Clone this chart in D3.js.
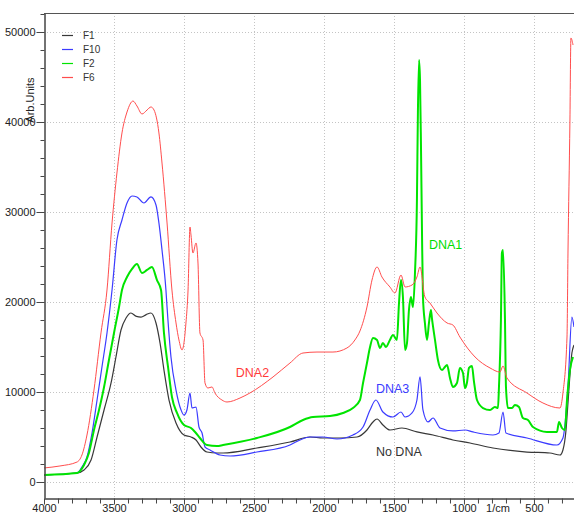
<!DOCTYPE html>
<html><head><meta charset="utf-8">
<script src="https://cdnjs.cloudflare.com/ajax/libs/d3/7.8.5/d3.min.js"></script>
<style>
body{margin:0;background:#fff}
svg{display:block}
text{font-family:"Liberation Sans",Arial,sans-serif}
</style>
</head><body><svg id="c" width="574" height="514"></svg>
<script>
// ---------- data (wavenumber 1/cm, intensity arb. units) ----------
const seriesNames = ["F1", "F10", "F2", "F6"];

const f1Data = [[4000,780],[3764,1000],[3714,1330],[3664,2440],[3621,5000],[3571,8000],[3521,11000],[3486,13890],[3450,16890],[3414,18220],[3379,18780],[3340,18400],[3307,18330],[3270,18600],[3236,18780],[3200,17670],[3171,15440],[3143,12440],[3107,9110],[3057,6560],[3000,5220],[2950,5000],[2914,4670],[2879,3890],[2836,3330],[2764,3220],[2721,3220],[2479,3780],[2243,4440],[2100,5000],[2007,4890],[1886,4890],[1764,5000],[1693,5780],[1650,6670],[1621,7000],[1579,6330],[1529,5780],[1443,6000],[1336,5560],[1221,5220],[1079,4670],[957,4330],[793,3780],[550,3330],[386,3220],[314,3000],[293,3560],[271,5780],[257,8780],[229,14330],[214,15220]];

const f10Data = [[4000,780],[3764,1000],[3729,1670],[3693,2780],[3657,5440],[3621,9110],[3586,12780],[3550,16560],[3514,21330],[3479,26890],[3443,29110],[3407,31000],[3371,31780],[3336,31670],[3286,31000],[3236,31670],[3200,30780],[3179,28780],[3157,25780],[3129,21330],[3121,19440],[3093,13890],[3057,10220],[3021,8000],[3000,7440],[2979,8000],[2957,9890],[2943,8220],[2914,8330],[2893,6110],[2871,5440],[2850,3890],[2814,3560],[2743,3000],[2671,2890],[2479,3330],[2243,4110],[2171,4670],[2100,5000],[2007,5000],[1907,4780],[1793,5220],[1721,6110],[1671,8000],[1629,9110],[1579,7780],[1507,7220],[1450,7780],[1421,7220],[1371,7670],[1336,9110],[1314,11670],[1293,8000],[1257,6670],[1221,7110],[1171,6000],[1079,5670],[993,5780],[936,5560],[793,5220],[750,5440],[721,7780],[700,5440],[550,4890],[336,4110],[293,4890],[257,10560],[229,18330],[214,17220]];

const f2Data = [[4000,780],[3764,1000],[3714,1890],[3679,3220],[3643,5780],[3607,8000],[3571,10560],[3536,13560],[3500,16560],[3464,19440],[3443,21330],[3407,22780],[3371,23670],[3336,24220],[3300,23220],[3264,23560],[3229,23890],[3193,22440],[3164,21330],[3143,16560],[3114,12780],[3086,9440],[3050,7670],[3000,6330],[2950,6000],[2921,5560],[2886,4890],[2836,4110],[2764,4000],[2721,4110],[2479,4890],[2243,6110],[2150,6890],[2079,7220],[1957,7330],[1864,7670],[1793,8220],[1743,9110],[1721,11000],[1693,13220],[1671,15000],[1650,16000],[1621,15780],[1600,14890],[1579,15440],[1557,15000],[1529,15780],[1507,16330],[1479,15780],[1464,19890],[1450,22440],[1436,20560],[1421,14670],[1407,15440],[1393,19110],[1379,20560],[1364,19440],[1350,23220],[1336,31330],[1329,41110],[1321,46890],[1314,44670],[1307,37220],[1300,28000],[1293,20560],[1279,17670],[1264,15780],[1250,17670],[1236,19110],[1229,18220],[1207,15780],[1186,13560],[1157,12440],[1136,12780],[1121,13000],[1100,11560],[1079,10560],[1050,11000],[1029,12670],[1007,12110],[993,10440],[979,11000],[964,12670],[943,12890],[929,11220],[907,9110],[864,8220],[814,8000],[779,8330],[757,8220],[750,10560],[736,18000],[729,25440],[721,25780],[707,18000],[700,10560],[686,8220],[657,8220],[636,8560],[607,8330],[579,7110],[543,6890],[507,6110],[407,5560],[336,5560],[321,6670],[300,6000],[279,5780],[264,9110],[243,12440],[221,13890]];

const f6Data = [[4000,1560],[3886,1780],[3764,2220],[3729,3000],[3693,5220],[3643,10220],[3593,16560],[3550,21330],[3514,28780],[3479,34330],[3443,38780],[3407,41110],[3364,42330],[3336,41780],[3300,40890],[3264,41330],[3236,41670],[3214,41330],[3179,38780],[3157,35440],[3121,28780],[3086,21330],[3057,17670],[3036,15780],[3014,14670],[2986,17670],[2971,21330],[2957,28330],[2950,27440],[2936,25440],[2914,26560],[2900,24330],[2886,16560],[2864,15780],[2850,11000],[2829,10440],[2800,10560],[2779,9890],[2729,9110],[2693,8890],[2600,9330],[2529,9890],[2364,11670],[2243,13220],[2150,14330],[2050,14440],[1936,14440],[1836,14890],[1779,15780],[1743,16780],[1693,19440],[1657,22440],[1621,23890],[1586,22780],[1529,21670],[1493,21000],[1450,23000],[1421,21670],[1371,21890],[1336,22780],[1314,23890],[1279,20560],[1243,19890],[1193,18780],[1121,17670],[1079,17440],[1029,16110],[921,13890],[814,12670],[743,12220],[721,12890],[693,11560],[550,9890],[436,8780],[314,8220],[293,9890],[264,16110],[257,25440],[243,40220],[236,49330],[221,48560]];

const xTicks = [4000, 3500, 3000, 2500, 2000, 1500, 1000, 500];
const yTicks = [0, 10000, 20000, 30000, 40000, 50000];
const annotations = [
  {text: "DNA1", wn: 1250, val: 25900, series: "F2"},
  {text: "DNA2", wn: 2630, val: 11700, series: "F6"},
  {text: "DNA3", wn: 1629, val: 9900, series: "F10"},
  {text: "No DNA", wn: 1629, val: 2900, series: "F1"}
];

// ---------- styles ----------
const colors = {F1: "#383838", F10: "#3b3bff", F2: "#00e400", F6: "#ff4d4d"};
const widths = {F1: 1.2, F10: 1.2, F2: 2, F6: 1};
const labelColors = {F1: "#333", F10: "#3b3bff", F2: "#00dd00", F6: "#ff3a3a"};

const svg = d3.select("#c");
const mLeft = 44, mRight = 574, mTop = 13, mBottom = 498;

const x = d3.scaleLinear().domain([4000, 214]).range([mLeft, mRight]);
const y = d3.scaleLinear().domain([-1778, 52111]).range([mBottom, mTop]);

// gridlines
const grid = svg.append("g").attr("stroke", "#c4c4c4").attr("stroke-dasharray", "1,2").attr("stroke-width", 1);
xTicks.filter(d => d !== 4000).forEach(d => {
  grid.append("line").attr("x1", Math.round(x(d)) + 0.5).attr("x2", Math.round(x(d)) + 0.5).attr("y1", mTop).attr("y2", mBottom);
});
yTicks.forEach(d => {
  grid.append("line").attr("x1", mLeft).attr("x2", mRight).attr("y1", Math.round(y(d)) + 0.5).attr("y2", Math.round(y(d)) + 0.5);
});

// curves
svg.append("clipPath").attr("id", "clip").append("rect")
  .attr("x", mLeft).attr("y", mTop).attr("width", mRight - mLeft).attr("height", mBottom - mTop);
const line = d3.line().x(d => x(d[0])).y(d => y(d[1])).curve(d3.curveMonotoneX);
const allData = {F1: f1Data, F10: f10Data, F2: f2Data, F6: f6Data};
const plot = svg.append("g").attr("clip-path", "url(#clip)");
["F1", "F10", "F2", "F6"].forEach(name => {
  plot.append("path").datum(allData[name]).attr("d", line)
    .attr("fill", "none").attr("stroke", colors[name]).attr("stroke-width", widths[name])
    .attr("stroke-linejoin", "round");
});

// axes
const axisColor = "#444";
const yMinor = d3.range(0, 52001, 2000).filter(d => !yTicks.includes(d));
const yAxisMinor = svg.append("g").attr("transform", `translate(${mLeft + 0.5},0)`)
  .call(d3.axisLeft(y).tickValues(yMinor).tickSize(4).tickSizeOuter(0).tickFormat(""));
const yAxis = svg.append("g").attr("transform", `translate(${mLeft + 0.5},0)`)
  .call(d3.axisLeft(y).tickValues(yTicks).tickSize(8).tickSizeOuter(0).tickPadding(1).tickFormat(d3.format("d")));
const xMinor = d3.range(300, 4001, 100).filter(d => !xTicks.includes(d));
const xAxisMinor = svg.append("g").attr("transform", `translate(0,${mBottom + 0.5})`)
  .call(d3.axisBottom(x).tickValues(xMinor).tickSize(5).tickSizeOuter(0).tickFormat(""));
const xAxis = svg.append("g").attr("transform", `translate(0,${mBottom + 0.5})`)
  .call(d3.axisBottom(x).tickValues(xTicks).tickSize(6).tickSizeOuter(0).tickFormat(d3.format("d")));
xAxis.selectAll("text").attr("y", 13.5).attr("dy", null);
[yAxisMinor, yAxis, xAxisMinor, xAxis].forEach(g => {
  g.selectAll("path, line").attr("stroke", axisColor);
  g.selectAll("text").attr("fill", "#222").style("font-size", "11px");
});
// top frame
svg.append("line").attr("x1", mLeft).attr("x2", mRight).attr("y1", mTop + 0.5).attr("y2", mTop + 0.5)
  .attr("stroke", "#555").attr("stroke-width", 1);

// axis titles
svg.append("text").attr("transform", `translate(34,100) rotate(-90)`)
  .attr("text-anchor", "middle").style("font-size", "11px").attr("fill", "#222").text("Arb.Units");
svg.append("text").attr("x", 498).attr("y", 511.5).attr("text-anchor", "middle")
  .style("font-size", "11px").attr("fill", "#222").text("1/cm");

// legend
const legend = svg.append("g");
seriesNames.forEach((name, i) => {
  const ly = 35.5 + i * 14;
  legend.append("line").attr("x1", 62).attr("x2", 73).attr("y1", ly).attr("y2", ly)
    .attr("stroke", colors[name]).attr("stroke-width", 1.2);
  legend.append("text").attr("x", 83).attr("y", ly + 3.5).style("font-size", "10px")
    .attr("fill", "#333").text(name);
});

// annotations
annotations.forEach(a => {
  svg.append("text").attr("x", x(a.wn)).attr("y", y(a.val))
    .style("font-size", "12.5px").attr("fill", labelColors[a.series]).text(a.text);
});
</script>
</body></html>
